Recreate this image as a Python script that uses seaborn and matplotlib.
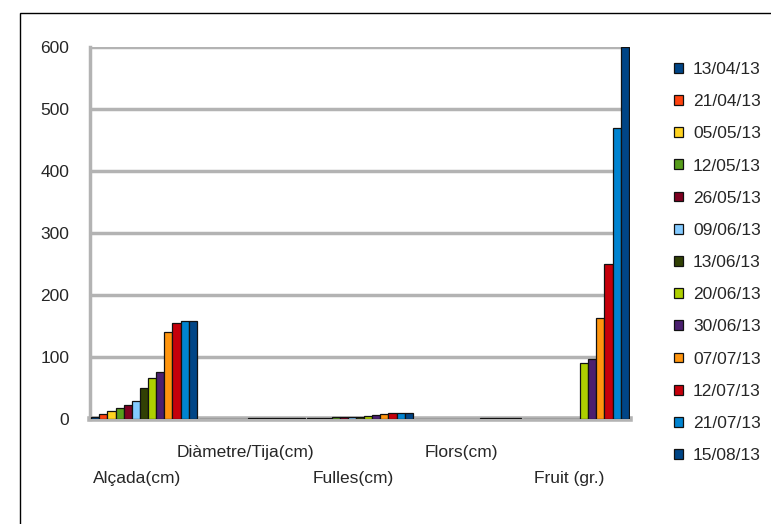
import numpy as np
import pandas as pd
import seaborn as sns
from matplotlib import pyplot as plt
from matplotlib.patches import Rectangle

categories = ['Alçada(cm)', 'Diàmetre/Tija(cm)', 'Fulles(cm)', 'Flors(cm)', 'Fruit (gr.)']
dates = ['13/04/13', '21/04/13', '05/05/13', '12/05/13', '26/05/13', '09/06/13', '13/06/13',
         '20/06/13', '30/06/13', '07/07/13', '12/07/13', '21/07/13', '15/08/13']

alcada = [3, 8, 13, 18, 22, 29, 50, 66, 76, 140, 155, 158, 158]
diametre = [0.3, 0.4, 0.5, 0.6, 0.7, 0.8, 0.9, 1.0, 1.1, 1.2, 1.3, 1.4, 1.5]
fulles = [1, 1.5, 2, 2.5, 3, 3.5, 4, 5, 6, 8, 9, 10, 10]
flors = [0, 0, 0, 0, 0, 0, 0, 0.5, 1, 1, 1, 1, 1]
fruit = [0, 0, 0, 0, 0, 0, 0, 90, 97, 163, 250, 470, 600]

colors = ['#004586', '#ff420e', '#ffd320', '#579d1c', '#7e0021', '#83caff', '#314004',
          '#aecf00', '#4b1f6f', '#ff950e', '#c5000b', '#0084d1', '#004586']

rows = []
for cat, vals in zip(categories, [alcada, diametre, fulles, flors, fruit]):
    for d, v in zip(dates, vals):
        rows.append({'cat': cat, 'date': d, 'val': v})
df = pd.DataFrame(rows)

sns.set_style('white')
plt.rcParams['font.family'] = ['Liberation Sans', 'DejaVu Sans']

fig = plt.figure(figsize=(7.71, 5.24), dpi=100)
ax = fig.add_axes([90 / 771, 1 - 419 / 524, 540 / 771, 372 / 524])

sns.barplot(data=df, x='cat', y='val', hue='date', palette=colors, width=0.98, saturation=1,
            edgecolor='#111111', linewidth=0.9, ax=ax, legend=True, zorder=3)

ax.set_ylim(0, 600)
ax.set_yticks(range(0, 601, 100))
ax.yaxis.grid(True, color='#b3b3b3', linewidth=2.5, zorder=0)
ax.set_xlabel('')
ax.set_ylabel('')
ax.set_xlim(-0.5, 4.5)
for s in ['top', 'right']:
    ax.spines[s].set_visible(False)
ax.spines['left'].set_color('#b3b3b3')
ax.spines['left'].set_linewidth(2.5)
ax.spines['bottom'].set_color('#b3b3b3')
ax.spines['bottom'].set_linewidth(4)
ax.axvline(4.5, color='#b3b3b3', linewidth=2.5, zorder=1)
ax.tick_params(axis='y', labelsize=12.5, length=0, pad=15)
ax.set_xticks(range(5))
ax.set_xticklabels([])
ax.tick_params(axis='x', length=0)

# staggered category labels
for i, cat in enumerate(categories):
    off = 43 if i % 2 == 0 else 24
    ax.annotate(cat, xy=(i, 0), xycoords=('data', 'axes fraction'),
                xytext=(-5, -off), textcoords='offset points', ha='center', va='center',
                fontsize=12.5, annotation_clip=False)

handles, labels = ax.get_legend_handles_labels()
ax.get_legend().remove()
fig.legend(handles, labels, loc='upper left', bbox_to_anchor=(667 / 771, 1 - 55 / 524),
           frameon=False, fontsize=12.5, handlelength=0.5, handleheight=0.5,
           handletextpad=0.6, labelspacing=0.99, borderaxespad=0)

fig.patches.append(Rectangle((20 / 771, -0.1), 1.1, 1 - 13 / 524 + 0.1, transform=fig.transFigure,
                             fill=False, edgecolor='black', linewidth=1))

fig.savefig('out.png', dpi=100)
